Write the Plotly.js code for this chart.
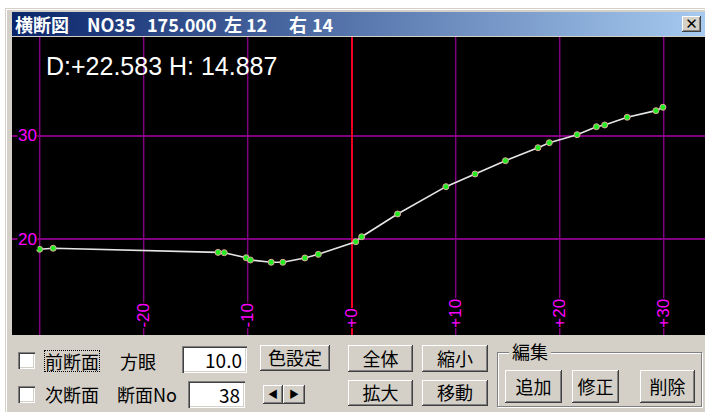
<!DOCTYPE html>
<html><head><meta charset="utf-8">
<script src="https://cdn.plot.ly/plotly-3.0.1.min.js"></script>
<style>
html,body{margin:0;padding:0;background:#fff;width:705px;height:412px;overflow:hidden;}
body{font-family:"Noto Sans CJK JP","Noto Sans",sans-serif;color:#000;}
#win{position:absolute;left:5px;top:8px;width:720px;height:420px;background:#d4d0c8;box-shadow:inset 1px 1px 0 #d4d0c8, inset 2px 2px 0 #ffffff;}
#titlebar{position:absolute;left:12px;top:12px;width:693px;height:24px;background:linear-gradient(to right,#0a246a,#a6caf0);}
#titlebar span{position:absolute;top:0;height:24px;line-height:24px;color:#fff;font-weight:bold;font-size:18px;white-space:nowrap;}
#close{position:absolute;left:682px;top:16px;width:19px;height:16px;background:#d4d0c8;box-shadow:inset -1px -1px 0 #404040, inset 1px 1px 0 #fff, inset -2px -2px 0 #808080;font:bold 15px "DejaVu Sans",sans-serif;line-height:16px;text-align:center;}
#plot{position:absolute;left:12px;top:37px;width:693px;height:298px;background:#000;}
.lbl{position:absolute;font-size:18px;line-height:20px;white-space:nowrap;}
.btn{position:absolute;background:#d4d0c8;box-shadow:inset -1px -1px 0 #404040, inset 1px 1px 0 #fff, inset -2px -2px 0 #808080;font-size:18px;text-align:center;box-sizing:border-box;white-space:nowrap;}
.inp{position:absolute;background:#fff;box-shadow:inset 1px 1px 0 #808080, inset 2px 2px 0 #404040, inset -1px -1px 0 #fff, inset -2px -2px 0 #d4d0c8;font-size:19px;text-align:right;box-sizing:border-box;padding-right:5px;}
.chk{position:absolute;width:17px;height:17px;background:#fff;box-shadow:inset 1px 1px 0 #808080, inset 2px 2px 0 #404040, inset -1px -1px 0 #fff, inset -2px -2px 0 #d4d0c8;}
#grp{position:absolute;left:497px;top:352px;width:203px;height:53px;border:1px solid #808080;box-shadow:1px 1px 0 #fff, inset 1px 1px 0 #fff;}
</style></head>
<body>
<div id="win"></div>
<div id="titlebar"><span style="left:3px">横断図</span><span style="left:75px">NO35</span><span style="left:135px">175.000</span><span style="left:212px">左</span><span style="left:234px">12</span><span style="left:277px">右</span><span style="left:300px">14</span></div>
<div id="close">✕</div>
<div id="plot"></div>

<div class="chk" style="left:18px;top:352px;"></div>
<div class="lbl" style="left:45px;top:351px;outline:1px dotted #000;outline-offset:0px;">前断面</div>
<div class="lbl" style="left:120px;top:351px;">方眼</div>
<div class="inp" style="left:182px;top:346px;width:65px;height:27px;line-height:27px;">10.0</div>
<div class="btn" style="left:260px;top:345px;width:70px;height:26px;line-height:25px;">色設定</div>
<div class="btn" style="left:348px;top:345px;width:65px;height:27px;line-height:26px;">全体</div>
<div class="btn" style="left:422px;top:345px;width:66px;height:27px;line-height:26px;">縮小</div>

<div class="chk" style="left:18px;top:386px;"></div>
<div class="lbl" style="left:45px;top:384px;">次断面</div>
<div class="lbl" style="left:117px;top:384px;">断面No</div>
<div class="inp" style="left:188px;top:381px;width:57px;height:27px;line-height:27px;">38</div>
<div class="btn" style="left:263px;top:385px;width:20px;height:19px;line-height:18px;font-size:10px;">◀</div>
<div class="btn" style="left:283px;top:385px;width:22px;height:19px;line-height:18px;font-size:10px;">▶</div>
<div class="btn" style="left:348px;top:380px;width:65px;height:26px;line-height:25px;">拡大</div>
<div class="btn" style="left:422px;top:380px;width:66px;height:26px;line-height:25px;">移動</div>

<div id="grp"></div>
<div class="lbl" style="left:509px;top:341px;background:#d4d0c8;padding:0 3px;">編集</div>
<div class="btn" style="left:505px;top:370px;width:57px;height:33px;line-height:32px;">追加</div>
<div class="btn" style="left:572px;top:370px;width:47px;height:33px;line-height:32px;">修正</div>
<div class="btn" style="left:640px;top:370px;width:55px;height:33px;line-height:32px;">削除</div>

<script>
// Cross-section survey points (distance from centre, elevation)
const distance = [-30.0, -28.7, -12.85, -12.25, -10.15, -9.74, -7.74, -6.62, -4.5, -3.21, 0.39, 0.96, 4.41, 9.06, 11.86, 14.78, 17.91, 19.0, 21.67, 23.53, 24.33, 26.49, 29.25, 29.92];
const elevation = [19.0, 19.1, 18.7, 18.67, 18.18, 17.96, 17.74, 17.74, 18.16, 18.51, 19.74, 20.22, 22.43, 25.08, 26.31, 27.6, 28.86, 29.35, 30.13, 30.9, 31.07, 31.82, 32.46, 32.79];
const xTickVals = [-30, -20, -10, 0, 10, 20, 30];
const xTickText = ['', '-20', '-10', '+0', '+10', '+20', '+30'];
const yTickVals = [10, 20, 30, 40];
const yTickText = ['10', '20', '30', '40'];
const readout = 'D:+22.583 H: 14.887';

const labelFont = {family: 'Liberation Sans, Arial, sans-serif', size: 17, color: '#ff00ff'};
const gridColor = '#800080';

// vertical grid lines at x ticks
const shapes = [];
xTickVals.forEach(v => {
  if (v !== 0) shapes.push({type: 'line', layer: 'below', xref: 'x', yref: 'paper', x0: v, x1: v, y0: 0, y1: 1, line: {color: gridColor, width: 1.5}});
});

// tick labels drawn inside the plot on a black patch (breaking the grid lines)
const annotations = [];
xTickVals.forEach((v, i) => {
  if (!xTickText[i]) return;
  annotations.push({text: xTickText[i], xref: 'x', yref: 'paper', x: v, y: 0.022, xanchor: 'center', yanchor: 'bottom',
    textangle: -90, showarrow: false, bgcolor: '#000', borderpad: 0, font: labelFont});
});
yTickVals.forEach((v, i) => {
  annotations.push({text: yTickText[i], xref: 'paper', yref: 'y', x: 0.007, y: v, xanchor: 'left', yanchor: 'middle',
    showarrow: false, bgcolor: '#000', borderpad: 0, font: labelFont});
});
annotations.push({
  text: readout, xref: 'paper', yref: 'paper', x: 0.046, y: 0.955,
  xanchor: 'left', yanchor: 'top', showarrow: false,
  font: {family: 'Liberation Sans, Arial, sans-serif', size: 25, color: '#ffffff'}
});

const trace = {
  x: distance, y: elevation, type: 'scatter', mode: 'lines+markers',
  line: {color: '#e6e6e6', width: 1.6},
  marker: {color: '#22ee22', size: 6, line: {color: '#e0a8a0', width: 1}},
  hoverinfo: 'skip'
};

const layout = {
  width: 693, height: 298,
  margin: {l: 0, r: 0, t: 0, b: 0},
  paper_bgcolor: '#000', plot_bgcolor: '#000',
  showlegend: false,
  xaxis: {
    range: [-32.66, 33.97], tickvals: xTickVals, showticklabels: false, ticks: '', showline: false,
    showgrid: false, zeroline: true, zerolinecolor: '#f00020', zerolinewidth: 2
  },
  yaxis: {
    range: [10.68, 39.61], tickvals: yTickVals, showticklabels: false, ticks: '', showline: false,
    showgrid: true, gridcolor: gridColor, gridwidth: 1.5, zeroline: false
  },
  shapes: shapes,
  annotations: annotations
};

Plotly.newPlot('plot', [trace], layout, {staticPlot: true, displayModeBar: false});
</script>
</body></html>
